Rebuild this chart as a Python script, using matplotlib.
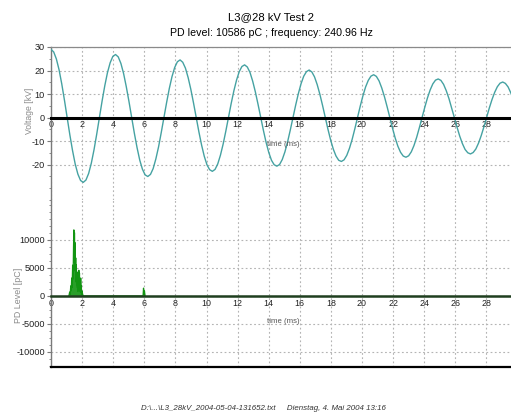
import numpy as np
import matplotlib
matplotlib.use("Agg")
import matplotlib.pyplot as plt
from matplotlib.ticker import MultipleLocator, FixedLocator
from matplotlib import font_manager

# ---------------- data ----------------
sample_step_ms = 4.15 / 24  # sampling interval of the voltage trace (ms)
voltage_kv = [
    29.0, 27.9, 24.9, 20.3, 14.3, 7.4, 0.0, -7.3, -14.0, -19.8, -24.1, -26.8,
    -27.6, -26.6, -23.8, -19.4, -13.7, -7.1, 0.0, 7.0, 13.5, 19.1, 23.3, 26.0,
    26.8, 25.8, 23.0, 18.7, 13.1, 6.8, 0.0, -6.7, -12.8, -18.1, -22.0, -24.4,
    -25.1, -24.2, -21.7, -17.6, -12.5, -6.4, 0.0, 6.4, 12.35, 17.4, 21.3, 23.7,
    24.5, 23.5, 21.0, 17.0, 12.0, 6.2, 0.0, -6.1, -11.7, -16.5, -20.1, -22.2,
    -22.9, -22.1, -19.8, -16.1, -11.4, -5.9, 0.0, 5.9, 11.3, 15.9, 19.5, 21.7,
    22.4, 21.5, 19.2, 15.5, 10.9, 5.6, 0.0, -5.5, -10.6, -14.9, -18.2, -20.1,
    -20.7, -20.0, -17.9, -14.6, -10.3, -5.3, 0.0, 5.3, 10.2, 14.4, 17.6, 19.5,
    20.2, 19.4, 17.3, 14.0, 9.85, 5.1, 0.0, -5.0, -9.6, -13.5, -16.4, -18.2,
    -18.7, -18.0, -16.1, -13.1, -9.3, -4.8, 0.0, 4.8, 9.2, 13.0, 15.8, 17.6,
    18.2, 17.5, 15.6, 12.6, 8.9, 4.6, 0.0, -4.5, -8.7, -12.2, -14.8, -16.4,
    -16.9, -16.3, -14.6, -11.9, -8.4, -4.3, 0.0, 4.3, 8.3, 11.7, 14.3, 15.9,
    16.4, 15.8, 14.1, 11.4, 8.05, 4.1, 0.0, -4.1, -7.9, -11.1, -13.6, -15.0,
    -15.5, -14.9, -13.4, -10.9, -7.7, -4.0, 0.0, 4.0, 7.6, 10.7, 13.1, 14.6,
    15.1, 14.5, 13.0, 10.5, 7.4]
time_ms = np.arange(len(voltage_kv)) * sample_step_ms

pd_time_ms = [1.15, 1.20, 1.23, 1.27, 1.30, 1.33, 1.36, 1.39, 1.42, 1.45, 1.47, 1.49, 1.51,
              1.53, 1.55, 1.57, 1.59, 1.61, 1.63, 1.65, 1.67, 1.69, 1.71, 1.73, 1.75, 1.77,
              1.79, 1.81, 1.83, 1.85, 1.87, 1.89, 1.91, 1.93, 1.95, 1.97, 2.00, 2.04, 2.08,
              5.92, 5.95, 5.98, 6.01, 6.04]
pd_level_pc = [0, 700, 200, 1800, 900, 3200, 1500, 5500, 3000, 9000, 11800, 6000, 11300,
               4500, 9500, 5200, 6800, 2500, 5600, 2000, 4300, 1500, 3300, 800, 2600, 1200,
               4600, 1500, 4100, 900, 2600, 700, 3200, 600, 1800, 300, 900, 200, 0,
               0, 1400, 300, 900, 0]

x_ticks = [0, 2, 4, 6, 8, 10, 12, 14, 16, 18, 20, 22, 24, 26, 28]
v_ticks = [30, 20, 10, 0, -10, -20]
pd_ticks = [10000, 5000, 0, -5000, -10000]

title_line1 = "L3@28 kV Test 2"
title_line2 = "PD level: 10586 pC ; frequency: 240.96 Hz"
footer_text = "D:\\...\\L3_28kV_2004-05-04-131652.txt     Dienstag, 4. Mai 2004 13:16"

# ---------------- style ----------------
names = {f.name for f in font_manager.fontManager.ttflist}
base = "Liberation Sans Narrow" if "Liberation Sans Narrow" in names else "Liberation Sans"
plt.rcParams['font.family'] = [base, 'DejaVu Sans']

W, H = 511, 416
fig = plt.figure(figsize=(W / 100, H / 100), dpi=100)
fig.patch.set_facecolor("white")

left = 51 / W
right = 1.0
def ypos(px_top, px_bot):
    return 1 - px_bot / H, (px_bot - px_top) / H

b1, h1 = ypos(47, 200)
b2, h2 = ypos(200, 367)
ax1 = fig.add_axes([left, b1, right - left, h1])
ax2 = fig.add_axes([left, b2, right - left, h2])

xmax = (W - 51) / 15.55
teal = "#45a2a2"
green = "#129412"
gridc = "#b4b4b4"
tick_fs = 6.4

for ax in (ax1, ax2):
    ax.set_xlim(0, xmax)
    ax.set_facecolor("white")
    ax.xaxis.set_major_locator(FixedLocator(x_ticks))
    ax.set_xticklabels([str(v) for v in x_ticks])
    ax.grid(True, which="major", linestyle=(0, (1.6, 2.2)), color=gridc, linewidth=0.8)
    ax.spines['right'].set_visible(False)
    ax.spines['left'].set_color("#7a7a7a")
    ax.spines['left'].set_linewidth(1.0)
    ax.tick_params(axis='x', length=0, pad=2, labelsize=tick_fs, colors="#222222")
    ax.tick_params(axis='y', which='major', length=3, width=0.8, color="#7a7a7a",
                   pad=1.5, labelsize=tick_fs + 0.2, labelcolor="#222222")
    ax.tick_params(axis='y', which='minor', length=1.8, width=0.6, color="#7a7a7a")
    ax.set_axisbelow(True)

# top: voltage
ax1.set_ylim(-35.1, 30)
ax1.yaxis.set_major_locator(FixedLocator(v_ticks))
ax1.set_yticklabels([str(v) for v in v_ticks])
ax1.yaxis.set_minor_locator(MultipleLocator(5))
ax1.plot(time_ms, voltage_kv, color=teal, linewidth=1.0, zorder=3)
ax1.spines['bottom'].set_position(('data', 0))
ax1.spines['bottom'].set_color("black")
ax1.spines['bottom'].set_linewidth(2.2)
ax1.spines['bottom'].set_zorder(4)
ax1.spines['top'].set_color("#8a8a8a")
ax1.spines['top'].set_linewidth(0.9)
ax1.text(13.9, -11.3, "time (ms)", fontsize=5.6, color="#555555", va='center', ha='left')

# bottom: PD level
ax2.set_ylim(-12680, 17140)
ax2.yaxis.set_major_locator(FixedLocator(pd_ticks))
ax2.set_yticklabels([str(v) for v in pd_ticks])
ax2.yaxis.set_minor_locator(MultipleLocator(1250))
ax2.fill_between(pd_time_ms, 0, pd_level_pc, color=green, linewidth=0, alpha=0.9, zorder=3)
ax2.plot(pd_time_ms, pd_level_pc, color=green, linewidth=0.9, zorder=3)
ax2.spines['top'].set_visible(False)
ax2.spines['bottom'].set_position(('data', 0))
ax2.spines['bottom'].set_color("#1f3f1f")
ax2.spines['bottom'].set_linewidth(1.8)
ax2.spines['bottom'].set_zorder(4)
ax2.plot([0, 1], [0, 0], transform=ax2.transAxes, color="black", linewidth=1.6,
         clip_on=False, zorder=5)
ax2.text(13.9, -4640, "time (ms)", fontsize=5.6, color="#555555", va='center', ha='left')

# texts
fig.text(271 / W, 1 - 17 / H, title_line1, ha='center', va='center', fontsize=8.1, color="black")
fig.text(271 / W, 1 - 33 / H, title_line2, ha='center', va='center', fontsize=7.7, color="black")
fig.text(30 / W, 1 - 111 / H, "Voltage [kV]", rotation=90, ha='center', va='center',
         fontsize=6.2, color="#8a8a8a")
fig.text(18.5 / W, 1 - 295 / H, "PD Level [pC]", rotation=90, ha='center', va='center',
         fontsize=6.4, color="#8a8a8a")
fig.text(263 / W, 1 - 409 / H, footer_text, ha='center', va='center', fontsize=5.7,
         style='italic', color="#333333")

fig.savefig("out.png", dpi=100, facecolor="white")
